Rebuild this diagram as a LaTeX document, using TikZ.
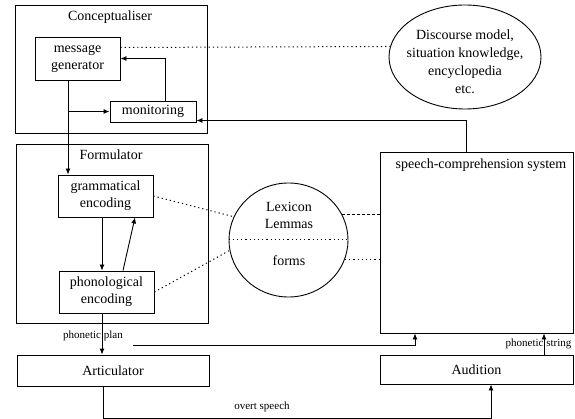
\documentclass[tikz,border=0pt]{standalone}
\usepackage{fontspec}
\setmainfont{Liberation Serif}
\usetikzlibrary{shapes.geometric,arrows.meta}
\begin{document}
\begin{tikzpicture}[x=1pt,y=-1pt,
 box/.style={draw,line width=0.9pt,rectangle,inner sep=0pt,align=center,font=\fontsize{14}{17}\selectfont},
 lbl/.style={font=\fontsize{14}{17}\selectfont,inner sep=0pt,align=center},
 small/.style={font=\fontsize{11}{13}\selectfont,inner sep=0pt},
 arr/.style={line width=0.9pt,-{Latex[length=6pt,width=5pt]}},
 plain/.style={line width=0.9pt},
 dotline/.style={line width=1pt,dash pattern=on 1.2pt off 3pt},
 dashdotline/.style={line width=1pt,dash pattern=on 3pt off 2pt},
 oval/.style={draw,ellipse,line width=0.9pt,inner sep=0pt}]
\useasboundingbox (0,0) rectangle (575,419);
% containers
\node[box,minimum width=192pt,minimum height=128pt] (concept) at (111,69) {};
\node[lbl] (conceptlbl) at (110,17) {Conceptualiser};
\node[box,minimum width=192pt,minimum height=179pt] (form) at (112,233.5) {};
\node[lbl] (formlbl) at (111,155) {Formulator};
\node[box,minimum width=193pt,minimum height=181pt] (speech) at (476.5,242.5) {};
\node[lbl] (speechlbl) at (481,165) {speech-comprehension system};
% inner boxes
\node[box,minimum width=85pt,minimum height=43pt] (msg) at (77.5,58.5) {message\\generator};
\node[box,minimum width=86pt,minimum height=21pt] (mon) at (153,111.5) {monitoring};
\node[box,minimum width=95pt,minimum height=42pt] (gram) at (105.5,196) {grammatical\\encoding};
\node[box,minimum width=95pt,minimum height=42pt] (phon) at (106.5,292) {phonological\\encoding};
\node[box,minimum width=192pt,minimum height=31pt] (artic) at (113,370.5) {Articulator};
\node[box,minimum width=193pt,minimum height=29pt] (audit) at (476.5,369.5) {Audition};
% ellipses
\node[oval,minimum width=152pt,minimum height=104pt] (disc) at (465,57) {};
\node[lbl,font=\fontsize{14}{18}\selectfont] (disctxt) at (465,62) {Discourse model,\\situation knowledge,\\encyclopedia\\etc.};
\node[oval,minimum width=119pt,minimum height=114pt] (lex) at (288.5,240) {};
\node[lbl] (lexlbl) at (289,207) {Lexicon};
\node[lbl] (lemlbl) at (289,224) {Lemmas};
\node[lbl] (formslbl) at (289,261) {forms};
\draw[dotline] (lex.west) -- (lex.east);
% arrows
\draw[arr] ([xshift=12pt]mon.north) |- (msg.east);
\draw[arr] ([xshift=-9.5pt]msg.south) -- ([xshift=-9.5pt]msg.south |- gram.north);
\draw[arr] ([xshift=-9.5pt]msg.south |- mon.west) -- (mon.west);
\draw[arr] ([xshift=-3.5pt]gram.south) -- ([xshift=-3.5pt]gram.south |- phon.north);
\draw[arr] ([xshift=16.5pt]phon.north) -- ([xshift=29.5pt]gram.south);
\draw[arr] ([xshift=-4.5pt]phon.south) -- ([xshift=-4.5pt]phon.south |- artic.north);
\node[small] (pplbl) at (93,336) {phonetic plan};
\coordinate (ppstart) at (133,345);
\draw[arr] (ppstart) -| ([xshift=-61.5pt]speech.south);
\draw[arr] ([xshift=-10pt]artic.south) -- ++(0,32) -| ([xshift=14.5pt]audit.south);
\node[small] (ovlbl) at (262,407) {overt speech};
\node[small] (pslbl) at (538.5,344) {phonetic string};
\draw[arr] ([xshift=67.5pt]audit.north) -- ([xshift=67.5pt]audit.north |- speech.south);
\draw[arr] ([xshift=-10.5pt]speech.north) |- ([yshift=-9pt]mon.east);
% dotted links
\draw[dotline] ([yshift=11pt]msg.east) -- (disc.172);
\draw[dotline] (gram.east) -- (lex.157);
\draw[dotline] (phon.east) -- (lex.190);
\draw[dashdotline] (lex.25) -- (speech.west |- lex.25);
\draw[dotline] (lex.-19) -- (speech.west |- lex.-19);
\end{tikzpicture}
\end{document}
